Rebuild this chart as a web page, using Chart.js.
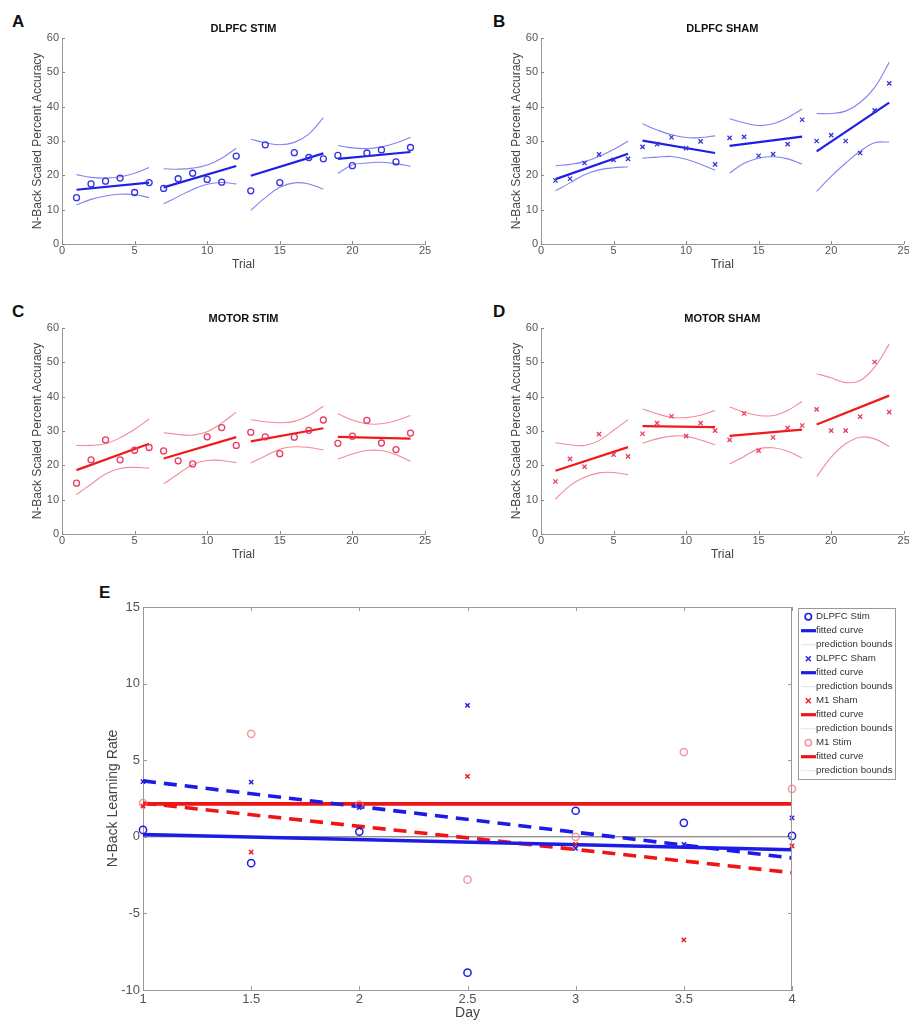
<!DOCTYPE html>
<html>
<head>
<meta charset="utf-8">
<script src="https://cdn.jsdelivr.net/npm/chart.js@4.4.1/dist/chart.umd.min.js"></script>
<style>
  body { margin: 0; background: #fff; width: 909px; height: 1022px; position: relative; overflow: hidden; }
  canvas { position: absolute; }
  .tag { position: absolute; font: bold 17px/17px "Liberation Sans", Arial, sans-serif; color: #111; }
</style>
</head>
<body>
<div class="tag" style="left:12px;top:13px">A</div>
<div class="tag" style="left:493px;top:13px">B</div>
<div class="tag" style="left:12px;top:303px">C</div>
<div class="tag" style="left:493px;top:303px">D</div>
<div class="tag" style="left:99px;top:584px">E</div>

<canvas id="chartA" width="450" height="290" style="left:0;top:0"></canvas>
<canvas id="chartB" width="459" height="290" style="left:450px;top:0"></canvas>
<canvas id="chartC" width="450" height="290" style="left:0;top:290px"></canvas>
<canvas id="chartD" width="459" height="290" style="left:450px;top:290px"></canvas>
<canvas id="chartE" width="909" height="437" style="left:0;top:585px"></canvas>

<script>
// trials and the four six-trial sessions
const trials = [1,2,3,4,5,6,7,8,9,10,11,12,13,14,15,16,17,18,19,20,21,22,23,24];
const sessions = [[1,6],[7,12],[13,18],[19,24]];

// DLPFC stim
const dlpfcStim      = [13.5,17.5,18.3,19.2,15.0,17.9, 16.2,19.0,20.6,18.8,18.0,25.6, 15.5,28.9,17.9,26.6,25.2,24.8, 25.8,22.8,26.5,27.4,23.9,28.1];
const dlpfcStimFit   = [15.8,17.9, 16.5,22.7, 19.9,26.4, 24.8,26.8];   // start/end of each session fit
const dlpfcStimUpper = [20.2,19.4,19.2,19.6,20.6,22.3, 21.9,21.8,22.1,23.0,25.0,27.9, 30.5,29.5,28.9,29.6,32.0,36.8, 28.7,28.0,27.8,28.3,29.4,31.1];
const dlpfcStimLower = [11.4,13.0,14.0,14.5,14.4,13.5, 11.7,13.8,15.9,17.4,17.9,17.5, 9.8,13.5,16.5,17.8,17.5,16.0, 20.6,23.0,23.6,23.8,23.4,22.6];

// DLPFC sham
const dlpfcSham      = [18.5,19.0,23.6,26.1,24.5,24.8, 28.3,29.1,31.1,27.9,29.9,23.2, 30.9,31.2,25.7,26.2,29.1,36.2, 30.0,31.7,30.0,26.5,38.9,46.8];
const dlpfcShamFit   = [18.9,26.3, 30.1,26.5, 28.6,31.3, 27.0,41.2];
const dlpfcShamUpper = [22.8,23.2,24.0,25.5,27.5,30.0, 35.0,33.2,31.8,31.0,31.0,31.5, 36.5,35.3,34.5,35.0,36.8,39.3, 38.0,38.0,38.7,41.2,45.6,52.9];
const dlpfcShamLower = [15.5,17.8,20.2,21.6,22.2,22.5, 25.0,25.3,25.5,24.7,23.2,21.5, 20.7,23.5,25.0,25.4,24.8,23.3, 15.3,19.7,23.6,27.0,29.5,29.7];

// motor stim
const motorStim      = [14.8,21.6,27.4,21.6,24.4,25.2, 24.2,21.3,20.4,28.3,31.0,25.8, 29.6,28.3,23.4,28.2,30.2,33.2, 26.4,28.5,33.1,26.5,24.6,29.4];
const motorStimFit   = [18.6,26.3, 22.0,28.2, 27.0,30.8, 28.3,27.8];
const motorStimUpper = [25.8,25.8,26.3,28.0,30.5,33.5, 29.5,29.0,28.8,29.8,32.3,35.5, 33.3,32.7,32.4,32.8,34.5,37.2, 35.0,33.2,32.1,32.1,33.0,34.5];
const motorStimLower = [11.5,14.5,17.5,19.1,19.4,19.2, 14.6,17.5,20.2,21.4,21.4,20.8, 20.7,22.7,24.7,25.4,25.2,24.5, 21.8,23.3,24.3,24.3,23.1,21.2];

// motor sham
const motorSham      = [15.3,21.9,19.6,29.1,23.1,22.6, 29.2,32.3,34.3,28.5,32.3,30.1, 27.4,35.1,24.3,28.1,30.9,31.6, 36.3,30.1,30.1,34.2,50.1,35.5];
const motorShamFit   = [18.4,25.3, 31.4,31.1, 28.6,30.4, 31.9,40.3];
const motorShamUpper = [26.6,26.0,25.8,27.2,30.2,33.3, 36.4,35.0,34.0,33.9,34.6,36.0, 37.0,35.5,34.5,34.5,36.0,38.6, 46.7,45.5,44.1,44.7,48.6,55.3];
const motorShamLower = [10.2,14.1,16.5,17.8,17.9,17.3, 26.5,27.7,28.5,28.5,27.4,26.0, 20.4,22.6,24.8,25.1,24.1,22.1, 16.7,22.4,26.3,28.2,27.7,25.5];

// learning rate per day
const days          = [1,1.5,2,2.5,3,3.5,4];
const rateDlpfcStim = [0.45,-1.72,0.34,-8.87,1.70,0.91,0.06];
const rateDlpfcSham = [3.60,3.57,1.90,8.58,-0.75,-0.50,1.24];
const rateM1Sham    = [2.00,-1.00,0.60,3.94,-0.50,-6.73,-0.60];
const rateM1Stim    = [2.20,6.72,2.10,-2.80,0.00,5.53,3.13];
// fitted lines, value at day 1 and day 4
const fitDlpfcStim  = [0.15,-0.85];
const fitDlpfcSham  = [3.65,-1.38];
const fitM1Sham     = [2.20,-2.34];
const fitM1Stim     = [2.15,2.15];

const FONT = '"Liberation Sans", Arial, sans-serif';
Chart.defaults.font.family = FONT;

const BLUE = { point: '#3434dc', fit: '#1e1ee8', bound: 'rgba(90,90,235,0.75)' };
const RED  = { point: '#ea3a62', fit: '#f01a1a', bound: 'rgba(238,110,130,0.8)' };

// matlab style tick marks pointing into the axes, optional full box
const inwardTicks = {
  id: 'inwardTicks',
  afterDraw(chart, args, opts) {
    const { ctx, chartArea: a, scales: { x, y } } = chart;
    const len = opts.len || 3;
    ctx.save();
    ctx.strokeStyle = opts.color || '#888';
    ctx.lineWidth = 1;
    ctx.beginPath();
    x.ticks.forEach(t => {
      const px = Math.round(x.getPixelForValue(t.value)) + 0.5;
      ctx.moveTo(px, a.bottom); ctx.lineTo(px, a.bottom - len);
      if (opts.box) { ctx.moveTo(px, a.top); ctx.lineTo(px, a.top + len); }
    });
    y.ticks.forEach(t => {
      const py = Math.round(y.getPixelForValue(t.value)) + 0.5;
      ctx.moveTo(a.left, py); ctx.lineTo(a.left + len, py);
      if (opts.box) { ctx.moveTo(a.right, py); ctx.lineTo(a.right - len, py); }
    });
    if (opts.box) {
      ctx.moveTo(a.left, a.top + 0.5); ctx.lineTo(a.right, a.top + 0.5);
      ctx.moveTo(a.right - 0.5, a.top); ctx.lineTo(a.right - 0.5, a.bottom);
    }
    ctx.stroke();
    ctx.restore();
  }
};

function sessionPoints(vals, s) {
  const out = [];
  for (let t = sessions[s][0]; t <= sessions[s][1]; t++) out.push({ x: t, y: vals[t - 1] });
  return out;
}

function boundLine(data, color) {
  return { type: 'line', data, borderColor: color, borderWidth: 1.1, pointRadius: 0, tension: 0.4, fill: false };
}

function trialChart(id, title, vals, fit, upper, lower, c, marker, yWidth, yTitlePad, rightPad) {
  const datasets = [{
    type: 'line', showLine: false, clip: false,
    data: trials.map((t, i) => ({ x: t, y: vals[i] })),
    pointStyle: marker, pointRadius: 3, borderWidth: 1.3,
    borderColor: c.point, backgroundColor: 'rgba(0,0,0,0)'
  }];
  for (let s = 0; s < sessions.length; s++) {
    datasets.push({
      type: 'line',
      data: [{ x: sessions[s][0], y: fit[2 * s] }, { x: sessions[s][1], y: fit[2 * s + 1] }],
      borderColor: c.fit, borderWidth: 2.2, pointRadius: 0, fill: false
    });
    datasets.push(boundLine(sessionPoints(upper, s), c.bound));
    datasets.push(boundLine(sessionPoints(lower, s), c.bound));
  }

  return new Chart(document.getElementById(id), {
    type: 'line',
    data: { datasets },
    plugins: [inwardTicks],
    options: {
      responsive: false, animation: false, devicePixelRatio: 1,
      layout: { padding: { left: 0, right: rightPad, top: 0, bottom: 0 } },
      plugins: {
        legend: { display: false },
        tooltip: { enabled: false },
        title: {
          display: true, text: title, fullSize: false, color: '#111',
          font: { family: FONT, size: 11, weight: 'bold' },
          padding: { top: 22, bottom: 2.8 }
        },
        inwardTicks: { len: 3, color: '#888' }
      },
      scales: {
        x: {
          type: 'linear', min: 0, max: 25,
          ticks: { stepSize: 5, padding: 0, color: '#555', font: { size: 11 } },
          grid: { display: false, drawTicks: false },
          border: { color: '#999' },
          title: { display: true, text: 'Trial', color: '#444', font: { size: 12 }, padding: { top: 0, bottom: 17.8 } },
          afterFit(s) { s.height = 46; s.paddingLeft = 0; s.paddingRight = 0; }
        },
        y: {
          type: 'linear', min: 0, max: 60,
          ticks: { stepSize: 10, padding: 3, color: '#555', font: { size: 11 } },
          grid: { display: false, drawTicks: false },
          border: { color: '#999' },
          title: { display: true, text: 'N-Back Scaled Percent Accuracy', color: '#444', font: { size: 12 }, padding: { top: yTitlePad, bottom: 0 } },
          afterFit(s) { s.width = yWidth; s.paddingTop = 0; s.paddingBottom = 0; }
        }
      }
    }
  });
}

trialChart('chartA', 'DLPFC STIM', dlpfcStim, dlpfcStimFit, dlpfcStimUpper, dlpfcStimLower, BLUE, 'circle', 62, 30.8, 25);
trialChart('chartB', 'DLPFC SHAM', dlpfcSham, dlpfcShamFit, dlpfcShamUpper, dlpfcShamLower, BLUE, 'crossRot', 91, 59.5, 5);
trialChart('chartC', 'MOTOR STIM', motorStim, motorStimFit, motorStimUpper, motorStimLower, RED, 'circle', 62, 30.8, 25);
trialChart('chartD', 'MOTOR SHAM', motorSham, motorShamFit, motorShamUpper, motorShamLower, RED, 'crossRot', 91, 59.5, 5);

// ---- learning rate panel ----
const E_BLUE = '#1c1ce6', E_RED = '#f01414', E_PINK = 'rgba(240,120,130,0.75)';

const legendEntries = [
  { text: 'DLPFC Stim', kind: 'circle', color: E_BLUE },
  { text: 'fitted curve', kind: 'line', color: E_BLUE },
  { text: 'prediction bounds', kind: 'faint', color: 'rgba(120,120,230,0.25)' },
  { text: 'DLPFC Sham', kind: 'cross', color: E_BLUE },
  { text: 'fitted curve', kind: 'line', color: E_BLUE },
  { text: 'prediction bounds', kind: 'faint', color: 'rgba(120,120,230,0.25)' },
  { text: 'M1 Sham', kind: 'cross', color: E_RED },
  { text: 'fitted curve', kind: 'line', color: E_RED },
  { text: 'prediction bounds', kind: 'faint', color: 'rgba(240,120,120,0.25)' },
  { text: 'M1 Stim', kind: 'circle', color: E_PINK },
  { text: 'fitted curve', kind: 'line', color: E_RED },
  { text: 'prediction bounds', kind: 'faint', color: 'rgba(240,120,120,0.25)' }
];

const boxedLegend = {
  id: 'boxedLegend',
  afterDraw(chart) {
    const { ctx, chartArea: a } = chart;
    const left = a.right + 6, top = a.top + 1, w = 97, step = 14;
    ctx.save();
    ctx.fillStyle = '#fff';
    ctx.fillRect(left, top, w, step * legendEntries.length + 3);
    ctx.strokeStyle = '#999';
    ctx.lineWidth = 1;
    ctx.strokeRect(left + 0.5, top + 0.5, w, step * legendEntries.length + 3);
    ctx.font = '9.7px ' + FONT;
    ctx.textBaseline = 'middle';
    legendEntries.forEach((e, i) => {
      const cy = top + 8.7 + i * step, cx = left + 10.3;
      ctx.strokeStyle = e.color;
      ctx.beginPath();
      if (e.kind === 'circle') {
        ctx.lineWidth = 1.6;
        ctx.arc(cx, cy, 3.2, 0, Math.PI * 2);
      } else if (e.kind === 'cross') {
        ctx.lineWidth = 1.3;
        ctx.moveTo(cx - 2.5, cy - 2.5); ctx.lineTo(cx + 2.5, cy + 2.5);
        ctx.moveTo(cx - 2.5, cy + 2.5); ctx.lineTo(cx + 2.5, cy - 2.5);
      } else {
        ctx.lineWidth = e.kind === 'line' ? 3.2 : 1;
        ctx.moveTo(left + 3, cy); ctx.lineTo(left + 18, cy);
      }
      ctx.stroke();
      ctx.fillStyle = '#333';
      ctx.fillText(e.text, left + 18, cy);
    });
    ctx.restore();
  }
};

function fitLine(fit, color, dash) {
  return {
    type: 'line', data: [{ x: days[0], y: fit[0] }, { x: days[days.length - 1], y: fit[1] }],
    borderColor: color, borderWidth: 3.6, borderDash: dash, pointRadius: 0, fill: false
  };
}

function rateMarks(vals, color, style, r) {
  return {
    type: 'line', showLine: false, clip: false,
    data: days.map((d, i) => ({ x: d, y: vals[i] })),
    pointStyle: style, pointRadius: r, borderWidth: 1.5,
    borderColor: color, backgroundColor: 'rgba(0,0,0,0)'
  };
}

new Chart(document.getElementById('chartE'), {
  type: 'line',
  data: {
    datasets: [
      rateMarks(rateDlpfcStim, E_BLUE, 'circle', 3.6),
      rateMarks(rateDlpfcSham, E_BLUE, 'crossRot', 3),
      rateMarks(rateM1Sham, E_RED, 'crossRot', 3),
      rateMarks(rateM1Stim, E_PINK, 'circle', 3.6),
      fitLine(fitDlpfcStim, E_BLUE, []),
      fitLine(fitDlpfcSham, E_BLUE, [13, 8]),
      fitLine(fitM1Stim, E_RED, []),
      fitLine(fitM1Sham, E_RED, [13, 8]),
      { type: 'line', data: [{ x: days[0], y: 0 }, { x: days[days.length - 1], y: 0 }],
        borderColor: '#666', borderWidth: 1, pointRadius: 0, fill: false }
    ]
  },
  plugins: [inwardTicks, boxedLegend],
  options: {
    responsive: false, animation: false, devicePixelRatio: 1,
    layout: { padding: { left: 0, right: 117, top: 22, bottom: 0 } },
    plugins: {
      legend: { display: false },
      tooltip: { enabled: false },
      inwardTicks: { len: 4, color: '#999', box: true }
    },
    scales: {
      x: {
        type: 'linear', min: 1, max: 4,
        ticks: { stepSize: 0.5, padding: 1.2, color: '#555', font: { size: 13 }, callback: v => String(v) },
        grid: { display: false, drawTicks: false },
        border: { color: '#999' },
        title: { display: true, text: 'Day', color: '#444', font: { size: 14 }, padding: { top: 0, bottom: 0.9 } },
        afterFit(s) { s.height = 32; s.paddingLeft = 0; s.paddingRight = 0; }
      },
      y: {
        type: 'linear', min: -10, max: 15,
        ticks: { stepSize: 5, padding: 3, color: '#555', font: { size: 13 } },
        grid: { display: false, drawTicks: false },
        border: { color: '#999' },
        title: { display: true, text: 'N-Back Learning Rate', color: '#444', font: { size: 14 }, padding: { top: 104.6, bottom: 0 } },
        afterFit(s) { s.width = 143; s.paddingTop = 0; s.paddingBottom = 0; }
      }
    }
  }
});
</script>
</body>
</html>
